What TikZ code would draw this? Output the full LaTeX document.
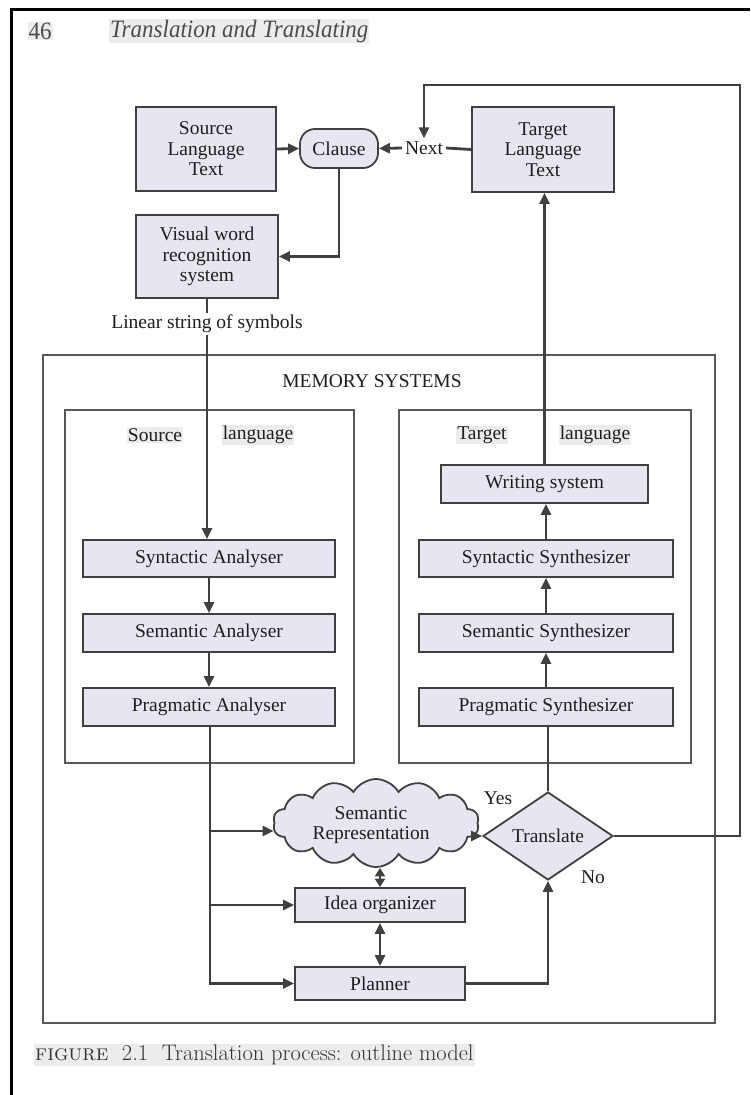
\documentclass[tikz,border=0pt]{standalone}
\usepackage{fontspec}
\usetikzlibrary{arrows.meta,shapes.geometric,shapes.symbols}
\newfontfamily\dfont{Liberation Serif}
\definecolor{boxfill}{RGB}{230,230,240}
\definecolor{linec}{RGB}{64,64,64}
\definecolor{framec}{RGB}{88,88,88}
\definecolor{txtc}{RGB}{30,30,30}
\definecolor{hil}{RGB}{236,236,236}
\begin{document}
\begin{tikzpicture}[x=1pt,y=-1pt,
  dtext/.style={font=\dfont\fontsize{19.5}{20.5}\selectfont, text=txtc, align=center},
  box/.style={dtext, draw=linec, fill=boxfill, line width=1.8pt, inner sep=0pt},
  frame/.style={draw=framec, line width=1.7pt, inner sep=0pt},
  conn/.style={draw=linec, line width=2.8pt},
  arr/.style={conn, -{Triangle[length=11pt,width=10pt]}},
  darr/.style={conn, {Triangle[length=11pt,width=10pt]}-{Triangle[length=11pt,width=10pt]}},
  darrs/.style={conn, {Triangle[length=8.5pt,width=10pt]}-{Triangle[length=8.5pt,width=10pt]}},
  hilite/.style={fill=hil, inner sep=1pt}
]
\useasboundingbox (0,0) rectangle (750,1095);
% page border
\draw[black, line width=3pt] (11,1095) -- (11,9) -- (750,9);
% header
\node[hilite, font=\dfont\fontsize{25}{27}\selectfont, text=black!70] (pg) at (40,31) {\scalebox{0.92}[1]{46}};
\node[hilite, font=\dfont\itshape\fontsize{25}{27}\selectfont, text=black!70, anchor=west] (title) at (109,31) {\scalebox{0.92}[1]{Translation and Translating}};

% top boxes
\node[box, minimum width=140pt, minimum height=84pt] (src) at (206,149) {Source\\Language\\Text};
\node[box, rounded corners=15pt, minimum width=78pt, minimum height=39pt] (clause) at (339,148.5) {Clause};
\node[dtext, inner sep=3pt] (next) at (424,148) {Next};
\node[box, minimum width=142pt, minimum height=85pt] (tgt) at (543,149.5) {Target\\Language\\Text};
\node[box, minimum width=142pt, minimum height=83pt] (vis) at (207,256.5) {Visual word\\recognition\\system};

% memory frames
\node[frame, minimum width=672pt, minimum height=668pt] (mem) at (379,689) {};
\node[dtext] (memlab) at (372,381) {MEMORY SYSTEMS};
\node[frame, minimum width=289pt, minimum height=353pt] (srcmem) at (209.5,586.5) {};
\node[frame, minimum width=292pt, minimum height=353pt] (tgtmem) at (545,586.5) {};
\node[dtext, hilite] (srclab1) at (155,435) {Source};
\node[dtext, hilite] (srclab2) at (258,435) {language};
\node[dtext, hilite] (tgtlab1) at (482,435) {Target};
\node[dtext, hilite] (tgtlab2) at (595,435) {language};

% analysers
\node[box, minimum width=252pt, minimum height=37pt] (syna) at (209,558.5) {Syntactic Analyser};
\node[box, minimum width=252pt, minimum height=38pt] (sema) at (209,633) {Semantic Analyser};
\node[box, minimum width=252pt, minimum height=38pt] (praga) at (209,707) {Pragmatic Analyser};
% synthesizers
\node[box, minimum width=207pt, minimum height=38pt] (writ) at (544.5,484) {Writing system};
\node[box, minimum width=254pt, minimum height=37pt] (syns) at (546,558.5) {Syntactic Synthesizer};
\node[box, minimum width=254pt, minimum height=38pt] (sems) at (546,633) {Semantic Synthesizer};
\node[box, minimum width=254pt, minimum height=38pt] (prags) at (546,707) {Pragmatic Synthesizer};

% lower part
\node[box, cloud, cloud ignores aspect, cloud puffs=14, cloud puff arc=120, minimum width=206pt, minimum height=88pt] (cloud) at (376,823) {};
\node[dtext] (cloudtxt) at (371,825) {Semantic\\Representation};
\node[box, diamond, minimum width=130pt, minimum height=88pt] (dia) at (548,836) {Translate};
\node[box, minimum width=170pt, minimum height=34pt] (idea) at (380,905) {Idea organizer};
\node[box, minimum width=170pt, minimum height=33pt] (plan) at (380,983.5) {Planner};
\node[dtext] (yes) at (498,798) {Yes};
\node[dtext] (no) at (593,877) {No};

% caption
\node[hilite, anchor=west, font=\fontsize{22.5}{24}\selectfont, text=black!80] (cap) at (34,1055) {\textsc{figure}\ \ \oldstylenums{2.1}\ \ Translation process: outline model};

% connectors
\draw[arr] (src.east) -- (clause.west);
\draw[arr] (next.west) -- (clause.east);
\draw[conn] (tgt.west) -- (next.east);
\draw[arr] (clause.south) |- (vis.east);
\draw[arr] (vis.south) -- node[dtext, fill=white, inner sep=2pt, pos=0.105] (lin) {Linear string of symbols} (vis.south |- syna.north);
\draw[arr] (syna) -- (sema);
\draw[arr] (sema) -- (praga);
\coordinate (lx) at (210,0);
\coordinate (cw) at ([yshift=-8pt]cloud.west);
\draw[arr] (praga.south -| lx) |- (plan.west);
\draw[arr] (lx |- cw) -- (cw);
\draw[arr] (lx |- idea.west) -- (idea.west);
\draw[arr] (cloud.east |- dia.west) -- (dia.west);
\draw[darrs] (idea.north |- cloud.south) -- (idea.north);
\draw[darr] (idea.south) -- (plan.north);
\draw[arr] (plan.east) -| (dia.south);
\draw[conn] (dia.north) -- (dia.north |- prags.south);
\draw[arr] (prags.north) -- (sems.south);
\draw[arr] (sems.north) -- (syns.south);
\draw[arr] (syns.north) -- (syns.north |- writ.south);
\draw[arr] (writ.north) -- (writ.north |- tgt.south);
\coordinate (fb) at (740,85);
\draw[arr] (dia.east) -| (fb) -| (next.north);
\end{tikzpicture}
\end{document}
